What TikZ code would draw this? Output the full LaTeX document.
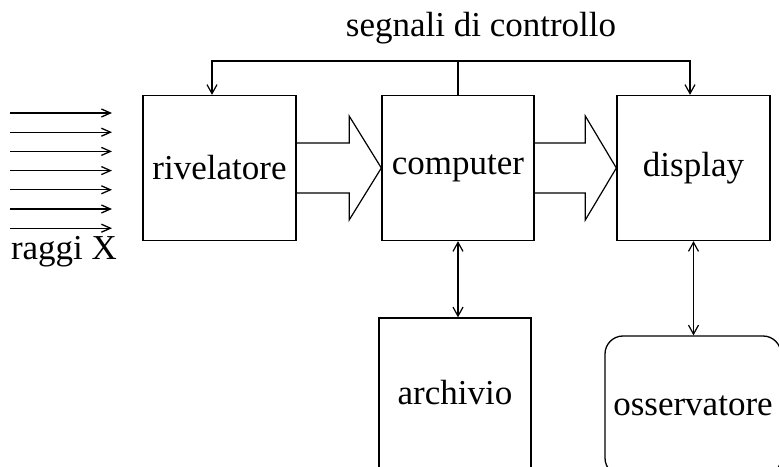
\documentclass[tikz,border=0pt]{standalone}
\usepackage{fontspec}
\setmainfont{Liberation Serif}
\usetikzlibrary{arrows.meta, positioning, calc}

\tikzset{
  blockbox/.style={draw, line width=1.3pt, minimum width=153pt, minimum height=145pt, inner sep=0pt},
  sig/.style={line width=1.2pt, -{Straight Barb[length=9pt, width=10pt]}},
  bidir/.style={line width=1.2pt, {Straight Barb[length=9pt, width=10pt]}-{Straight Barb[length=9pt, width=10pt]}},
  ray/.style={line width=1.3pt, -{Straight Barb[length=9pt, width=8pt]}},
  fat/.style={line width=1.2pt, line join=miter}
}

% hollow block arrow between two boxes
\newcommand{\fatarrow}[2]{%
  \draw[fat] let \p1=(#1.east), \p2=(#2.west), \n1={\x1+0.62*(\x2-\x1)} in
    (\x1,\y1+25pt) -- (\n1,\y1+25pt) -- (\n1,\y1+52pt) -- (\x2,\y2)
    -- (\n1,\y1-52pt) -- (\n1,\y1-25pt) -- (\x1,\y1-25pt);
}

\begin{document}
\begin{tikzpicture}[x=1pt, y=1pt, font=\fontsize{35}{42}\selectfont]

    \useasboundingbox (0,0) rectangle (779,466);
    \clip (0,0) rectangle (779,466);

    % Main blocks
    \node[blockbox] (riv) at (219.5,298) {rivelatore};
    \node[blockbox, minimum width=152pt] (comp) at (458,298) {computer};
    \node[blockbox] (disp) at (693.5,298) {display};
    \node[blockbox, minimum width=152pt, minimum height=150pt] (arch) at (455,73) {archivio};
    \node[blockbox, minimum width=176pt, minimum height=140pt, rounded corners=18pt] (obs) at (693,60) {osservatore};

    % Control signals
    \node (ctl) at (481,438) {segnali di controllo};
    \coordinate (ctlL) at (212,405);
    \coordinate (ctlR) at (690,405);
    \draw[sig] (comp.north) |- (ctlL) -- (ctlL |- riv.north);
    \draw[sig] (comp.north) |- (ctlR) -- (ctlR |- disp.north);

    % Data flow
    \fatarrow{riv}{comp}
    \fatarrow{comp}{disp}

    \draw[bidir] (comp.south) -- (comp.south |- arch.north);
    \draw[bidir] (disp.south) -- (disp.south |- obs.north);

    % X rays
    \foreach \i in {0,...,6}
        \draw[ray] (10,353-19.2*\i) -- ++(102,0);
    \node (rays) at (64,214) {raggi X};

\end{tikzpicture}
\end{document}
